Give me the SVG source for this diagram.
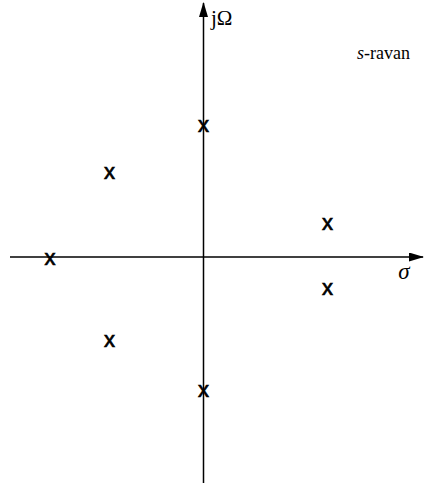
<svg xmlns="http://www.w3.org/2000/svg" width="426" height="483" viewBox="0 0 426 483">
<style>
.ax{stroke:#000;stroke-width:1.5;fill:none}
.pole{font-family:"Liberation Sans",Arial,sans-serif;font-size:22px;text-anchor:middle;fill:#000;stroke:#000;stroke-width:0.7}
.lbl{font-family:"Liberation Serif","DejaVu Serif","Times New Roman",serif;fill:#000}
</style>
<defs>
<marker id="ah" markerWidth="15" markerHeight="9" refX="14" refY="4.5" orient="auto" markerUnits="userSpaceOnUse">
<path d="M0,0 L15,4.5 L0,9 Z" fill="#000"/>
</marker>
</defs>
<g id="connectors">
<line class="ax" x1="10" y1="257" x2="423" y2="257" marker-end="url(#ah)"/>
<line class="ax" x1="203.5" y1="483" x2="203.5" y2="3" marker-end="url(#ah)"/>
</g>
<g id="labels">
<text class="lbl" x="211" y="25" font-size="21">jΩ</text>
<text class="lbl" x="404" y="279" font-size="23" font-style="italic" text-anchor="middle">σ</text>
<text class="lbl" x="357" y="59" font-size="18"><tspan font-style="italic">s</tspan>-ravan</text>
</g>
<g id="poles">
<text class="pole" x="203.5" y="132">x</text>
<text class="pole" x="109.5" y="179">x</text>
<text class="pole" x="327.5" y="230">x</text>
<text class="pole" x="50" y="265">x</text>
<text class="pole" x="327.5" y="295">x</text>
<text class="pole" x="109.5" y="347">x</text>
<text class="pole" x="203.5" y="397">x</text>
</g>
</svg>
